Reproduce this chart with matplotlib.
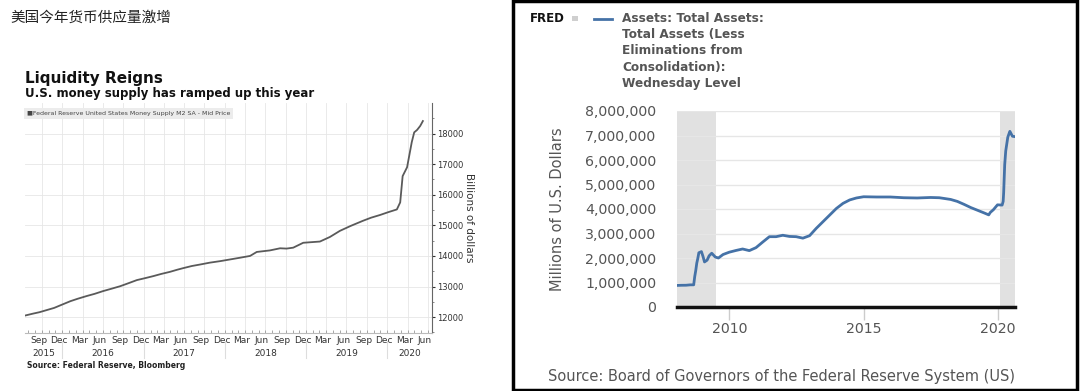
import matplotlib
matplotlib.use("Agg")
import matplotlib.pyplot as plt
import pandas as pd
from matplotlib.patches import Rectangle
from matplotlib.lines import Line2D
from matplotlib.ticker import FuncFormatter

W, H = 1080, 391


def fx(x):
    return x / W


def fy(y):
    return 1 - y / H


# 左图：M2 货币供应量（十亿美元）
m2_dates = ['2015-07-17', '2015-08-20', '2015-09-20', '2015-10-23', '2015-11-25', '2015-12-28',
            '2016-02-06', '2016-03-10', '2016-04-20', '2016-05-25', '2016-07-02', '2016-08-10',
            '2016-09-17', '2016-10-25', '2016-12-01', '2017-01-05', '2017-02-13', '2017-03-20',
            '2017-04-29', '2017-06-01', '2017-06-27', '2017-08-05', '2017-09-12', '2017-10-25',
            '2017-12-11', '2018-01-20', '2018-03-09', '2018-04-24', '2018-05-24', '2018-07-22',
            '2018-09-06', '2018-10-05', '2018-11-04', '2018-12-19', '2019-01-25', '2019-03-04',
            '2019-04-18', '2019-06-02', '2019-07-20', '2019-09-14', '2019-10-20', '2019-11-30',
            '2020-01-05', '2020-02-13', '2020-02-28', '2020-03-10', '2020-03-30', '2020-04-20',
            '2020-05-01', '2020-05-14', '2020-05-28', '2020-06-09']
m2_values = [12050, 12110, 12160, 12230, 12300, 12400,
             12520, 12600, 12690, 12760, 12850, 12930,
             13010, 13110, 13210, 13270, 13340, 13410,
             13480, 13550, 13600, 13670, 13720, 13780,
             13830, 13880, 13940, 14000, 14130, 14180,
             14250, 14240, 14270, 14430, 14450, 14470,
             14620, 14820, 14980, 15150, 15250, 15340,
             15430, 15520, 15750, 16610, 16900, 17720,
             18040, 18120, 18250, 18410]
m2_yticks = [12000, 13000, 14000, 15000, 16000, 17000, 18000]
years = ['2015', '2016', '2017', '2018', '2019', '2020']

# 右图：美联储总资产（百万美元）
fed_dates = ['2008-01-16', '2008-03-19', '2008-05-21', '2008-07-16', '2008-09-03', '2008-09-17',
             '2008-10-01', '2008-10-15', '2008-10-29', '2008-11-12', '2008-12-17', '2009-01-07',
             '2009-01-28', '2009-03-04', '2009-04-01', '2009-05-06', '2009-06-24', '2009-08-05',
             '2009-10-07', '2009-12-30', '2010-03-31', '2010-06-30', '2010-09-29', '2010-12-29',
             '2011-03-30', '2011-06-29', '2011-09-28', '2011-12-28', '2012-03-28', '2012-06-27',
             '2012-09-26', '2012-12-26', '2013-03-27', '2013-06-26', '2013-09-25', '2013-12-25',
             '2014-03-26', '2014-06-25', '2014-09-24', '2014-12-31', '2015-06-24', '2015-12-30',
             '2016-06-29', '2016-12-28', '2017-06-28', '2017-10-25', '2018-03-28', '2018-06-27',
             '2018-09-26', '2018-12-26', '2019-03-27', '2019-06-26', '2019-08-28', '2019-09-18',
             '2019-10-30', '2019-12-25', '2020-02-26', '2020-03-11', '2020-03-18', '2020-03-25',
             '2020-04-01', '2020-04-15', '2020-05-13', '2020-06-10', '2020-06-24', '2020-07-15',
             '2020-08-05']
fed_assets = [880000, 887000, 889000, 904000, 905000, 1242000,
              1489000, 1793000, 1986000, 2214000, 2261000, 2069000,
              1839000, 1912000, 2091000, 2195000, 2039000, 2000000,
              2142000, 2237000, 2307000, 2368000, 2301000, 2423000,
              2650000, 2870000, 2870000, 2928000, 2880000, 2870000,
              2810000, 2910000, 3210000, 3480000, 3750000, 4020000,
              4230000, 4370000, 4450000, 4500000, 4490000, 4490000,
              4460000, 4450000, 4470000, 4460000, 4390000, 4310000,
              4190000, 4060000, 3950000, 3840000, 3760000, 3860000,
              3970000, 4170000, 4160000, 4310000, 4670000, 5250000,
              5810000, 6370000, 6930000, 7170000, 7090000, 6970000,
              6960000]
recessions = [('2007-12-01', '2009-06-30'), ('2020-02-01', '2020-08-31')]
fed_yticks = [0, 1000000, 2000000, 3000000, 4000000, 5000000, 6000000, 7000000, 8000000]
fed_xticks = ['2010', '2015', '2020']

narrow = ['Liberation Sans Narrow', 'DejaVu Sans']

fig = plt.figure(figsize=(10.8, 3.91), dpi=100)

# ---------- 左图 ----------
fig.text(fx(10), fy(18), '美国今年货币供应量激增', fontsize=10.5, color='#222222',
         fontweight='medium', family=['Noto Sans CJK SC', 'DejaVu Sans'],
         va='center', ha='left')
fig.text(fx(25), fy(78), 'Liquidity Reigns', fontsize=11, fontweight='bold',
         family=narrow, va='center', ha='left', color='#111111')
fig.text(fx(25), fy(93), 'U.S. money supply has ramped up this year', fontsize=8.5,
         fontweight='bold', family=narrow, va='center', ha='left', color='#111111')
fig.text(fx(27), fy(366), 'Source: Federal Reserve, Bloomberg', fontsize=5.5,
         fontweight='bold', family=narrow, va='center', ha='left', color='#222222')

ax1 = fig.add_axes([fx(25), fy(333), fx(432) - fx(25), (333 - 103) / H])
d1 = pd.to_datetime(m2_dates)
ax1.plot(d1, m2_values, color='#5a5a5a', lw=1.3)
x0, x1 = pd.Timestamp('2015-07-17'), pd.Timestamp('2020-07-20')
ax1.set_xlim(x0, x1)
ax1.set_ylim(11480, 19000)

ax1.yaxis.tick_right()
ax1.yaxis.set_label_position('right')
ax1.set_yticks(m2_yticks)
ax1.set_yticks(range(11500, 19000, 500), minor=True)
ax1.tick_params(axis='y', which='major', labelsize=6, colors='#333333', length=2.5,
                direction='out', pad=1)
ax1.tick_params(axis='y', which='minor', length=1.5, colors='#777777')
for lab in ax1.get_yticklabels():
    lab.set_family(narrow)
ax1.set_ylabel('Billions of dollars', rotation=-90, fontsize=7.5, color='#333333',
               family=narrow, labelpad=8)

# 网格：季度末竖线 + 每千横线
quarter_ends = pd.date_range('2015-09-30', '2020-06-30', freq='QE-DEC')
month_labels = [d.strftime('%b') for d in quarter_ends]
for d in quarter_ends:
    ax1.axvline(d + pd.Timedelta(days=1), color='#e6e6e6', lw=0.6, zorder=0)
for v in m2_yticks:
    ax1.axhline(v, color='#e6e6e6', lw=0.6, zorder=0)

ax1.set_xticks(pd.date_range('2015-08-01', '2020-07-01', freq='MS'), minor=True)
ax1.set_xticks([d - pd.Timedelta(days=14) for d in quarter_ends])
ax1.set_xticklabels(month_labels)
ax1.tick_params(axis='x', which='major', length=0, labelsize=6.5, colors='#333333', pad=2)
ax1.tick_params(axis='x', which='minor', length=2, color='#999999', direction='in')
for lab in ax1.get_xticklabels():
    lab.set_family(narrow)

for s in ['top', 'left']:
    ax1.spines[s].set_visible(False)
ax1.spines['right'].set_color('#666666')
ax1.spines['bottom'].set_color('#bbbbbb')

tr = ax1.get_xaxis_transform()
for y in years:
    a = max(pd.Timestamp(y + '-01-01'), x0)
    b = min(pd.Timestamp(y + '-12-31'), x1)
    ax1.text(a + (b - a) / 2, -0.087, y, transform=tr, ha='center', va='center',
             fontsize=6.5, color='#333333', family=narrow)
    if y != '2015':
        ax1.add_line(Line2D([pd.Timestamp(y + '-01-01')] * 2, [-0.035, -0.11], transform=tr,
                            color='#dddddd', lw=0.8, clip_on=False))

ax1.text(0.005, 0.955, '\u25a0Federal Reserve United States Money Supply M2 SA - Mid Price',
         transform=ax1.transAxes, fontsize=4.5, color='#444444', family=narrow,
         va='center', ha='left',
         bbox=dict(boxstyle='square,pad=0.45', fc='#ececec', ec='none'))

# ---------- 右图 ----------
fig.patches.append(Rectangle((fx(513), fy(390)), fx(1077) - fx(513), (390 - 1) / H,
                             transform=fig.transFigure, fill=False, ec='black', lw=2.5))

fig.text(fx(530), fy(18), 'FRED', fontsize=8.5, fontweight='heavy', color='#111111',
         va='center', ha='left')
fig.patches.append(Rectangle((fx(572), fy(21)), 6 / W, 5 / H, transform=fig.transFigure,
                             fc='#cfcfcf', ec='none'))
fig.add_artist(Line2D([fx(594), fx(612)], [fy(19), fy(19)], transform=fig.transFigure,
                      color='#4572a7', lw=2))
fig.text(fx(622), fy(12), 'Assets: Total Assets:\nTotal Assets (Less\nEliminations from\n'
         'Consolidation):\nWednesday Level', fontsize=8.7, fontweight='bold',
         color='#555555', va='top', ha='left', linespacing=1.32)

ax2 = fig.add_axes([fx(677), fy(307), (1015 - 677) / W, (307 - 111) / H])
d2 = pd.to_datetime(fed_dates)
for a, b in recessions:
    ax2.axvspan(pd.Timestamp(a), pd.Timestamp(b), color='#e1e1e1', lw=0, zorder=0)
ax2.plot(d2, fed_assets, color='#4572a7', lw=2, zorder=3)
ax2.set_xlim(pd.Timestamp('2008-01-20'), pd.Timestamp('2020-08-19'))
ax2.set_ylim(0, 8000000)
ax2.set_yticks(fed_yticks)
ax2.yaxis.set_major_formatter(FuncFormatter(lambda v, p: f'{int(v):,}'))
for v in fed_yticks[1:]:
    ax2.axhline(v, color='#e6e6e6', lw=1, zorder=1)
ax2.set_xticks([pd.Timestamp(y + '-01-01') for y in fed_xticks])
ax2.set_xticklabels(fed_xticks)
ax2.tick_params(axis='y', length=0, labelsize=10.2, colors='#555555', pad=15)
ax2.tick_params(axis='x', length=9, width=1, color='#cccccc', labelsize=10.2,
                labelcolor='#555555', pad=2)
for s in ['top', 'left', 'right']:
    ax2.spines[s].set_visible(False)
ax2.spines['bottom'].set_linewidth(2.5)
ax2.spines['bottom'].set_color('#111111')
ax2.set_ylabel('Millions of U.S. Dollars', fontsize=10.5, color='#555555', labelpad=14)

fig.text(fx(548), fy(377), 'Source: Board of Governors of the Federal Reserve System (US)',
         fontsize=10.5, color='#555555', va='center', ha='left')

fig.savefig('out.png', dpi=100)
